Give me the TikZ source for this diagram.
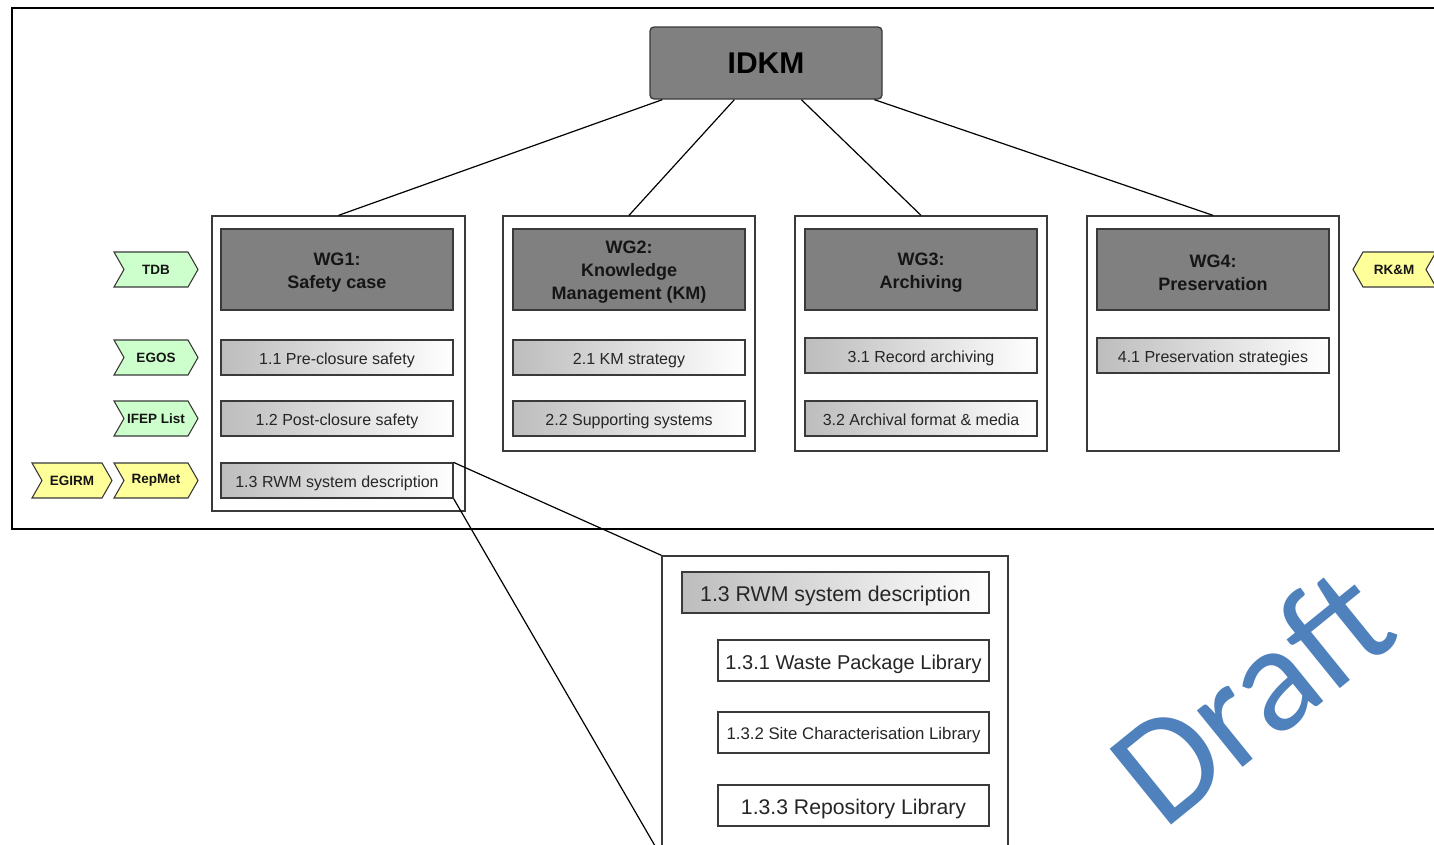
\documentclass[tikz,border=0pt]{standalone}
\usepackage{fontspec}
\setmainfont{Liberation Sans}
\newfontfamily\draftfont{Carlito}
\usetikzlibrary{calc}
\definecolor{hdrgray}{HTML}{808080}
\definecolor{edgegray}{HTML}{3A3A3A}
\definecolor{taggreen}{HTML}{CCFFCC}
\definecolor{tagyellow}{HTML}{FFFF99}
\definecolor{draftblue}{HTML}{4F81BD}
\definecolor{inktext}{HTML}{151515}
\tikzset{
  fs/.style={font=\fontsize{#1}{#1}\selectfont, text height=#1pt, text depth=3pt},
  container/.style={draw=edgegray, line width=1.3pt, fill=white, inner sep=0pt},
  header/.style={draw=edgegray, line width=1.3pt, fill=hdrgray, inner sep=0pt},
  hdrtext/.style={align=center, inner sep=0pt, yshift=-3pt, text=inktext,
    font=\bfseries\fontsize{18}{23}\selectfont},
  topic/.style={draw=edgegray, line width=1.2pt, left color=black!26, right color=white,
    inner sep=0pt, text=black!85, fs=16},
  libbox/.style={draw=edgegray, line width=1.4pt, fill=white, inner sep=0pt, text=black!85},
  tag/.style={draw=edgegray, line width=1.1pt},
  taglabel/.style={inner sep=0pt, text=inktext, font=\bfseries\fontsize{13.5}{14}\selectfont},
  link/.style={draw=black, line width=1.2pt},
}
\begin{document}
\begin{tikzpicture}[x=1pt,y=-1pt]
\useasboundingbox (0,0) rectangle (1434,844);
\clip (0,0) rectangle (1434,844);
\fill[white] (0,0) rectangle (1434,844);

% outer frame (runs past the right edge)
\draw[line width=1.8pt, black] (12,8) rectangle (1460,529);

% top node
\node[draw=edgegray, line width=1.3pt, fill=hdrgray, rounded corners=4pt,
      minimum width=232, minimum height=72, inner sep=0pt,
      font=\bfseries\fontsize{30}{30}\selectfont, text=black] (idkm) at (766,63) {IDKM};

% working group containers
\node[container, minimum width=253, minimum height=295] (wg1) at (338.5,363.5) {};
\node[container, minimum width=252, minimum height=235] (wg2) at (629,333.5) {};
\node[container, minimum width=252, minimum height=235] (wg3) at (921,333.5) {};
\node[container, minimum width=252, minimum height=235] (wg4) at (1213,333.5) {};

% connectors from the top node
\draw[link] ([xshift=13]idkm.south west) -- (wg1.north);
\draw[link] ([xshift=85]idkm.south west) -- (wg2.north);
\draw[link] ([xshift=152]idkm.south west) -- (wg3.north);
\draw[link] ([xshift=225]idkm.south west) -- (wg4.north);

% headers
\node[header, minimum width=232, minimum height=81,
      label={[hdrtext]center:WG1:\\Safety case}] (h1) at (337,269.5) {};
\node[header, minimum width=232, minimum height=81,
      label={[hdrtext]center:WG2:\\Knowledge\\Management (KM)}] (h2) at (629,269.5) {};
\node[header, minimum width=232, minimum height=81,
      label={[hdrtext]center:WG3:\\Archiving}] (h3) at (921,269.5) {};
\node[header, minimum width=232, minimum height=81,
      label={[hdrtext]center:WG4:\\Preservation}] (h4) at (1213,269.5) {};

% topics
\node[topic, minimum width=232, minimum height=35] (t11) at (337,357.5) {1.1 Pre-closure safety};
\node[topic, minimum width=232, minimum height=35] (t12) at (337,418.5) {1.2 Post-closure safety};
\node[topic, minimum width=232, minimum height=35] (t13) at (337,480.5) {1.3 RWM system description};
\node[topic, minimum width=232, minimum height=35] (t21) at (629,357.5) {2.1 KM strategy};
\node[topic, minimum width=232, minimum height=35] (t22) at (629,418.5) {2.2 Supporting systems};
\node[topic, minimum width=232, minimum height=35] (t31) at (921,355.5) {3.1 Record archiving};
\node[topic, minimum width=232, minimum height=35] (t32) at (921,418.5) {3.2 Archival format \& media};
\node[topic, minimum width=232, minimum height=35] (t41) at (1213,355.5) {4.1 Preservation strategies};

% tags pointing right
\draw[tag, fill=taggreen] (114,252) -- (188,252) -- (198,269.5) -- (188,287) -- (114,287) -- (124,269.5) -- cycle;
\node[taglabel] (tdb) at (156,269.5) {TDB};
\draw[tag, fill=taggreen] (114,340) -- (188,340) -- (198,357.5) -- (188,375) -- (114,375) -- (124,357.5) -- cycle;
\node[taglabel] (egos) at (156,357.5) {EGOS};
\draw[tag, fill=taggreen] (114,401) -- (188,401) -- (198,418.5) -- (188,436) -- (114,436) -- (124,418.5) -- cycle;
\node[taglabel] (ifep) at (156,418.5) {IFEP List};
\draw[tag, fill=tagyellow] (114,463) -- (188,463) -- (198,480.5) -- (188,498) -- (114,498) -- (124,480.5) -- cycle;
\node[taglabel] (repmet) at (156,480.5) {RepMet};
\draw[tag, fill=tagyellow] (32,463) -- (102,463) -- (112,480.5) -- (102,498) -- (32,498) -- (42,480.5) -- cycle;
\node[taglabel] (egirm) at (72,480.5) {EGIRM};
% tag pointing left
\draw[tag, fill=tagyellow] (1363,252) -- (1353,269.5) -- (1363,287) -- (1436,287) -- (1426,269.5) -- (1436,252) -- cycle;
\node[taglabel] (rkm) at (1394,269.5) {RK\&M};

% enlarged view of topic 1.3
\node[container, line width=1.4pt, minimum width=346, minimum height=300] (zoom) at (835,706) {};
\draw[link] (t13.north east) -- (zoom.north west);
\draw[link] (t13.south east) -- (zoom.south west);

\node[topic, line width=1.4pt, minimum width=307, minimum height=41, fs=21.3] (z13) at (835.5,592.5) {1.3 RWM system description};
\node[libbox, minimum width=271, minimum height=41, fs=20] (z131) at (853.5,660.5) {1.3.1 Waste Package Library};
\node[libbox, minimum width=271, minimum height=41, fs=16.8] (z132) at (853.5,732.5) {1.3.2 Site Characterisation Library};
\node[libbox, minimum width=271, minimum height=41, fs=21.2] (z133) at (853.5,805.5) {1.3.3 Repository Library};

% watermark
\node[rotate=39, anchor=base west, inner sep=0pt, text=draftblue,
      font=\draftfont\fontsize{152}{152}\selectfont] (draft) at (1163,832) {Draft};
\end{tikzpicture}
\end{document}
